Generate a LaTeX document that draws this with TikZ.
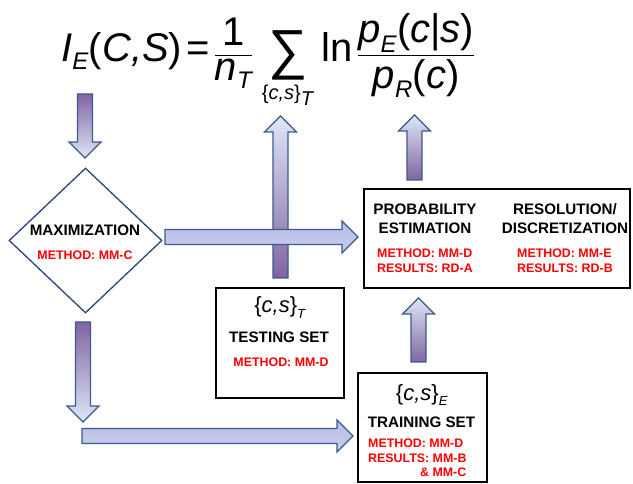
\documentclass[tikz,border=0pt]{standalone}
\usepackage{amsmath}
\usepackage{fontspec}
\setmainfont{Liberation Sans}
\usepackage{tikz}
\usetikzlibrary{calc,shapes.geometric}
\renewcommand{\defaultscriptratio}{.6}
\renewcommand{\defaultscriptscriptratio}{.5}
\newcommand{\vi}[1]{\textit{#1}}
\newcommand{\vu}[1]{\textup{#1}}
\newcommand{\bigsum}{\mathop{\vcenter{\hbox{\fontsize{55}{55}\selectfont ∑}}}}
\definecolor{aline}{RGB}{60,90,140}
\definecolor{apurple}{RGB}{128,100,162}
\definecolor{amid}{RGB}{190,198,232}
\definecolor{alight}{RGB}{222,231,246}
\definecolor{htop}{RGB}{184,190,230}
\definecolor{hmid}{RGB}{216,224,245}
\definecolor{hbot}{RGB}{198,206,238}
\definecolor{dline}{RGB}{40,70,120}
\definecolor{mred}{RGB}{255,0,0}
\def\shaftw{7.5pt}
\def\headw{16pt}
\def\headlen{16pt}
\newcommand{\fatarrow}[3][]{%
  \coordinate (fa-h) at ($(#3)!\headlen!(#2)$);
  \draw[fat, #1] ($(#2)!\shaftw!90:(#3)$) -- ($(fa-h)!\shaftw!90:(#3)$)
    -- ($(fa-h)!\headw!90:(#3)$) -- (#3) -- ($(fa-h)!\headw!-90:(#3)$)
    -- ($(fa-h)!\shaftw!-90:(#3)$) -- ($(#2)!\shaftw!-90:(#3)$) -- cycle;}

\begin{document}
\begin{tikzpicture}[x=1pt, y=-1pt,
    fat/.style={draw=aline, line width=1.3pt, line join=miter},
    down/.style={top color=apurple, middle color=amid, bottom color=alight},
    up/.style={top color=alight, middle color=amid, bottom color=apurple},
    across/.style={top color=htop, middle color=hmid, bottom color=hbot},
    box/.style={draw, line width=1.6pt, inner sep=0pt},
    title/.style={anchor=base, inner sep=0pt, font=\fontsize{15.2}{18}\selectfont\bfseries},
    method/.style={anchor=base west, inner sep=0pt, text=mred, font=\fontsize{12.4}{15}\selectfont\bfseries},
    set/.style={anchor=base, inner sep=0pt, font=\fontsize{22}{26}\selectfont}]
\useasboundingbox (0,0) rectangle (633,484);

\node[anchor=base west, inner sep=0pt, font=\fontsize{40}{48}\selectfont] (formula) at (61,62)
  {$\displaystyle \vi{I}_{\vi{E}}\vu{(}\vi{C}\vi{,}\vi{S}\vu{)}\,\vu{=}\,
   \frac{\vu{1}}{\vi{n}_{\vi{T}}}\,
   \bigsum\limits_{\scriptscriptstyle\vu{\{}\vi{c}\vi{,}\vi{s}\vu{\}}_{\vi{T}}}\,
   \vu{ln}\,\frac{\vi{p}_{\vi{E}}\vu{(}\vi{c}\vu{|}\vi{s}\vu{)}}{\vi{p}_{\vi{R}}\vu{(}\vi{c}\vu{)}}$};

\node[diamond, draw=dline, line width=1.3pt, inner sep=0pt, minimum width=153pt, minimum height=145pt] (maxim) at (85.5,240.5) {};
\node[title] (maxt) at (85,236) {MAXIMIZATION};
\node[method, anchor=base] (maxm) at (85,260) {METHOD: MM-C};

\node[box, minimum width=266pt, minimum height=99pt] (prob) at (497,238.5) {};
\node[title] (probt1) at (425,214.5) {PROBABILITY};
\node[title] (probt2) at (425,233.5) {ESTIMATION};
\node[method] (probm1) at (377,257.3) {METHOD: MM-D};
\node[method] (probm2) at (377,272.3) {RESULTS: RD-A};
\node[title] (rest1) at (565,214.5) {RESOLUTION/};
\node[title] (rest2) at (565,233.5) {DISCRETIZATION};
\node[method] (resm1) at (517,257.3) {METHOD: MM-E};
\node[method] (resm2) at (517,272.3) {RESULTS: RD-B};

\node[box, minimum width=128pt, minimum height=110pt] (test) at (280,343) {};
\node[set] (testc) at (280,313) {$\vu{\{}\vi{c}\vi{,}\vi{s}\vu{\}}_{\vi{T}}$};
\node[title] (testt) at (279,342.4) {TESTING SET};
\node[method, anchor=base] (testm) at (281,366.3) {METHOD: MM-D};

\node[box, minimum width=129pt, minimum height=109pt] (train) at (422.5,427.5) {};
\node[set] (trainc) at (422,400) {$\vu{\{}\vi{c}\vi{,}\vi{s}\vu{\}}_{\vi{E}}$};
\node[title] (traint) at (421.5,427.4) {TRAINING SET};
\node[method] (trainm1) at (368,447.3) {METHOD: MM-D};
\node[method] (trainm2) at (368,462.3) {RESULTS: MM-B};
\node[method] (trainm3) at (420,476.3) {\& MM-C};

\coordinate (a1s) at (85,94);     \coordinate (a1e) at (85,158);
\coordinate (a2s) at (83,322);    \coordinate (a2e) at (83,422);
\coordinate (a3s) at (82,436);    \coordinate (a3e) at (353,436);
\coordinate (a4s) at (165,237);   \coordinate (a4e) at (358,237);
\coordinate (a5s) at (280.5,278); \coordinate (a5e) at (280.5,116);
\coordinate (a6s) at (418.5,362); \coordinate (a6e) at (418.5,298);
\coordinate (a7s) at (414.5,180); \coordinate (a7e) at (414.5,115);

\fatarrow[down]{a1s}{a1e}
\fatarrow[down]{a2s}{a2e}
\fatarrow[across]{a3s}{a3e}
\fatarrow[up]{a5s}{a5e}
\fatarrow[across]{a4s}{a4e}
\fatarrow[up]{a6s}{a6e}
\fatarrow[up]{a7s}{a7e}
\end{tikzpicture}
\end{document}
